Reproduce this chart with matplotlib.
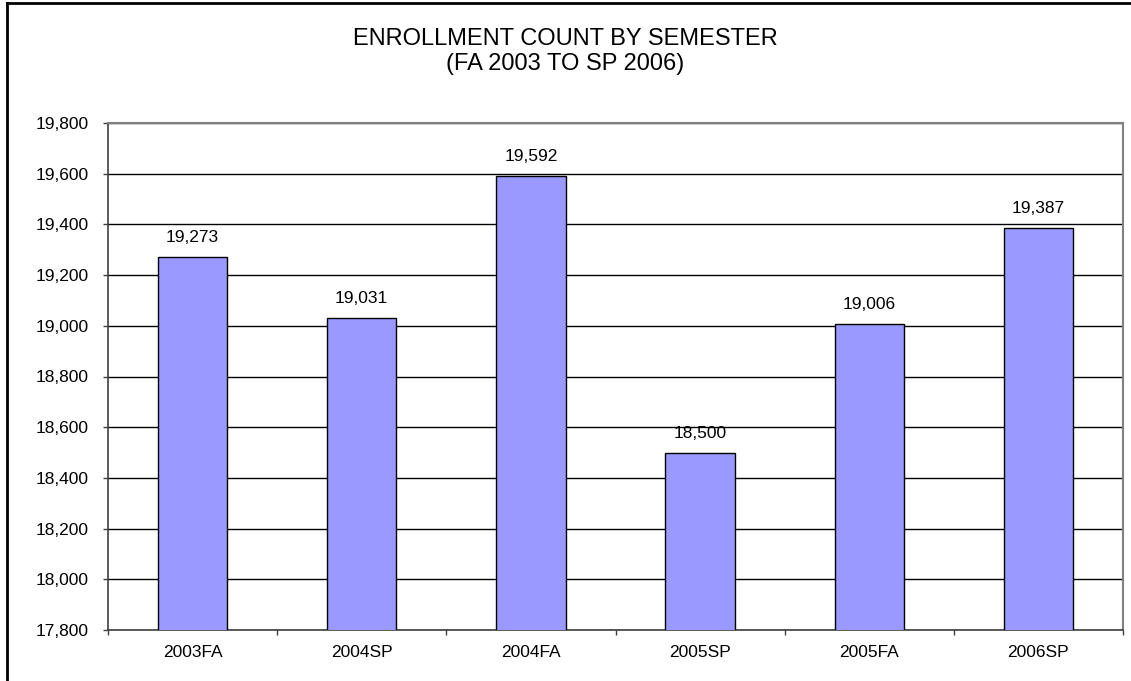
import numpy as np
import matplotlib.pyplot as plt
from matplotlib.lines import Line2D
from matplotlib.ticker import FuncFormatter, FixedLocator

plt.rcParams["font.family"] = ["Liberation Sans", "DejaVu Sans"]

# data
semesters = ["2003FA", "2004SP", "2004FA", "2005SP", "2005FA", "2006SP"]
enrollment = [19273, 19031, 19592, 18500, 19006, 19387]
y_ticks = [17800, 18000, 18200, 18400, 18600, 18800, 19000, 19200, 19400, 19600, 19800]

fig = plt.figure(figsize=(11.31, 6.81), dpi=100)
ax = fig.add_axes([108 / 1131, 1 - 630 / 681, (1123 - 108) / 1131, (630 - 123) / 681])

x = np.arange(len(semesters))
ax.bar(x, enrollment, width=0.41, color="#9999FF", edgecolor="black", linewidth=1.0, zorder=3)

for xi, v in zip(x, enrollment):
    ax.annotate(f"{v:,}", xy=(xi, v), xytext=(0, 14), textcoords="offset points",
                ha="center", va="center", fontsize=12.5, color="black")

ax.set_xlim(-0.5, len(semesters) - 0.5)
ax.set_ylim(17800, 19800)
ax.set_yticks(y_ticks)
ax.yaxis.set_major_formatter(FuncFormatter(lambda v, p: f"{int(v):,}"))
ax.grid(axis="y", color="black", linewidth=1.0, zorder=0)
ax.set_axisbelow(True)

ax.set_xticks(x)
ax.set_xticklabels(semesters)
ax.xaxis.set_minor_locator(FixedLocator(np.arange(-0.5, len(semesters), 1.0)))
ax.tick_params(axis="x", which="major", length=0, pad=11, labelsize=12.5)
ax.tick_params(axis="x", which="minor", length=3.5, width=1, color="#404040", direction="out")
ax.tick_params(axis="y", length=3.6, width=1, color="#404040", pad=10.5, labelsize=12.5)

for s in ["left", "bottom"]:
    ax.spines[s].set_color("#404040")
    ax.spines[s].set_linewidth(1.2)
for s in ["top", "right"]:
    ax.spines[s].set_color("#808080")
    ax.spines[s].set_linewidth(1.5)

# title, two lines centred at y~38 and y~65 px
fig.text(0.5, 1 - 51.5 / 681, "ENROLLMENT COUNT BY SEMESTER\n(FA 2003 TO SP 2006)",
         ha="center", va="center", fontsize=17, linespacing=1.15)

# outer chart border (left and top edges visible)
fig.add_artist(Line2D([7 / 1131, 7 / 1131], [0, 1 - 3 / 681], color="black", linewidth=2, transform=fig.transFigure))
fig.add_artist(Line2D([7 / 1131, 1], [1 - 3 / 681, 1 - 3 / 681], color="black", linewidth=2, transform=fig.transFigure))

fig.savefig("out.png", dpi=100)
